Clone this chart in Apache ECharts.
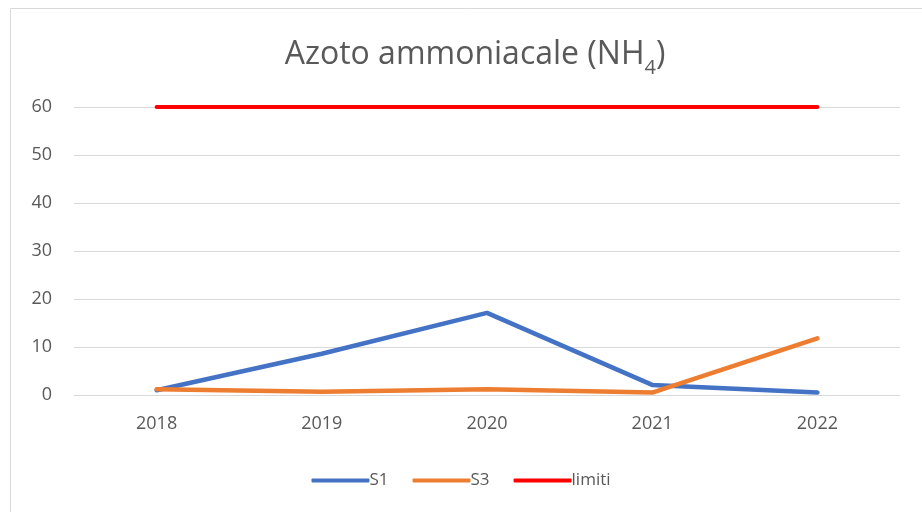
<!DOCTYPE html>
<html>
<head>
<meta charset="utf-8">
<script src="https://cdn.jsdelivr.net/npm/echarts@6/dist/echarts.min.js"></script>
<style>
  html, body { margin: 0; padding: 0; background: #fff; }
  #main { width: 922px; height: 512px; }
</style>
</head>
<body>
<div id="main"></div>
<script>
// dati
var anni = ['2018', '2019', '2020', '2021', '2022'];
var s1 = [1.0, 8.6, 17.1, 2.1, 0.5];
var s3 = [1.2, 0.7, 1.2, 0.5, 11.8];
var limiti = [60, 60, 60, 60, 60];
var yTicks = [0, 10, 20, 30, 40, 50, 60];

var font = '"Open Sans", "Noto Sans", sans-serif';
var grigio = '#595959';

var chart = echarts.init(document.getElementById('main'));
chart.setOption({
  animation: false,
  textStyle: { fontFamily: font },
  graphic: [{
    type: 'rect',
    shape: { x: 10.5, y: 8.5, width: 930, height: 520 },
    style: { fill: 'none', stroke: '#d9d9d9', lineWidth: 1 },
    silent: true
  }],
  title: {
    text: '{t|Azoto ammoniacale (NH}{s|4}{t|)}',
    left: 470,
    textAlign: 'center',
    top: 24,
    textStyle: {
      fontWeight: 'normal',
      rich: {
        t: { fontSize: 32, color: grigio, fontFamily: font, fontWeight: 'normal', verticalAlign: 'bottom', lineHeight: 42 },
        s: { fontSize: 20, color: grigio, fontFamily: font, fontWeight: 'normal', verticalAlign: 'bottom', padding: [0, 0, -7, 0], lineHeight: 42 }
      }
    }
  },
  legend: {
    bottom: 18,
    left: 'center',
    itemWidth: 58,
    itemHeight: 4,
    itemGap: 24,
    icon: 'roundRect',
    textStyle: { color: grigio, fontSize: 17, fontFamily: font, padding: [0, 0, 0, -5] },
    data: ['S1', 'S3', 'limiti']
  },
  grid: { left: 74, right: 22, top: 107, bottom: 117, containLabel: false },
  xAxis: {
    type: 'category',
    data: anni,
    boundaryGap: true,
    axisLine: { lineStyle: { color: '#d9d9d9', width: 1 } },
    axisTick: { show: false },
    axisLabel: { color: grigio, fontSize: 18, margin: 20 }
  },
  yAxis: {
    type: 'value',
    min: yTicks[0],
    max: yTicks[yTicks.length - 1],
    interval: 10,
    axisLine: { show: false },
    axisTick: { show: false },
    axisLabel: { color: grigio, fontSize: 18, margin: 22 },
    splitLine: { lineStyle: { color: '#d9d9d9', width: 1 } }
  },
  series: [
    {
      name: 'S1', type: 'line', data: s1, symbol: 'none',
      lineStyle: { color: '#4472c4', width: 4.5, cap: 'round', join: 'round' },
      itemStyle: { color: '#4472c4' }
    },
    {
      name: 'S3', type: 'line', data: s3, symbol: 'none',
      lineStyle: { color: '#ed7d31', width: 4.5, cap: 'round', join: 'round' },
      itemStyle: { color: '#ed7d31' }
    },
    {
      name: 'limiti', type: 'line', data: limiti, symbol: 'none',
      lineStyle: { color: '#ff0000', width: 4, cap: 'round', join: 'round' },
      itemStyle: { color: '#ff0000' }
    }
  ]
});
</script>
</body>
</html>
